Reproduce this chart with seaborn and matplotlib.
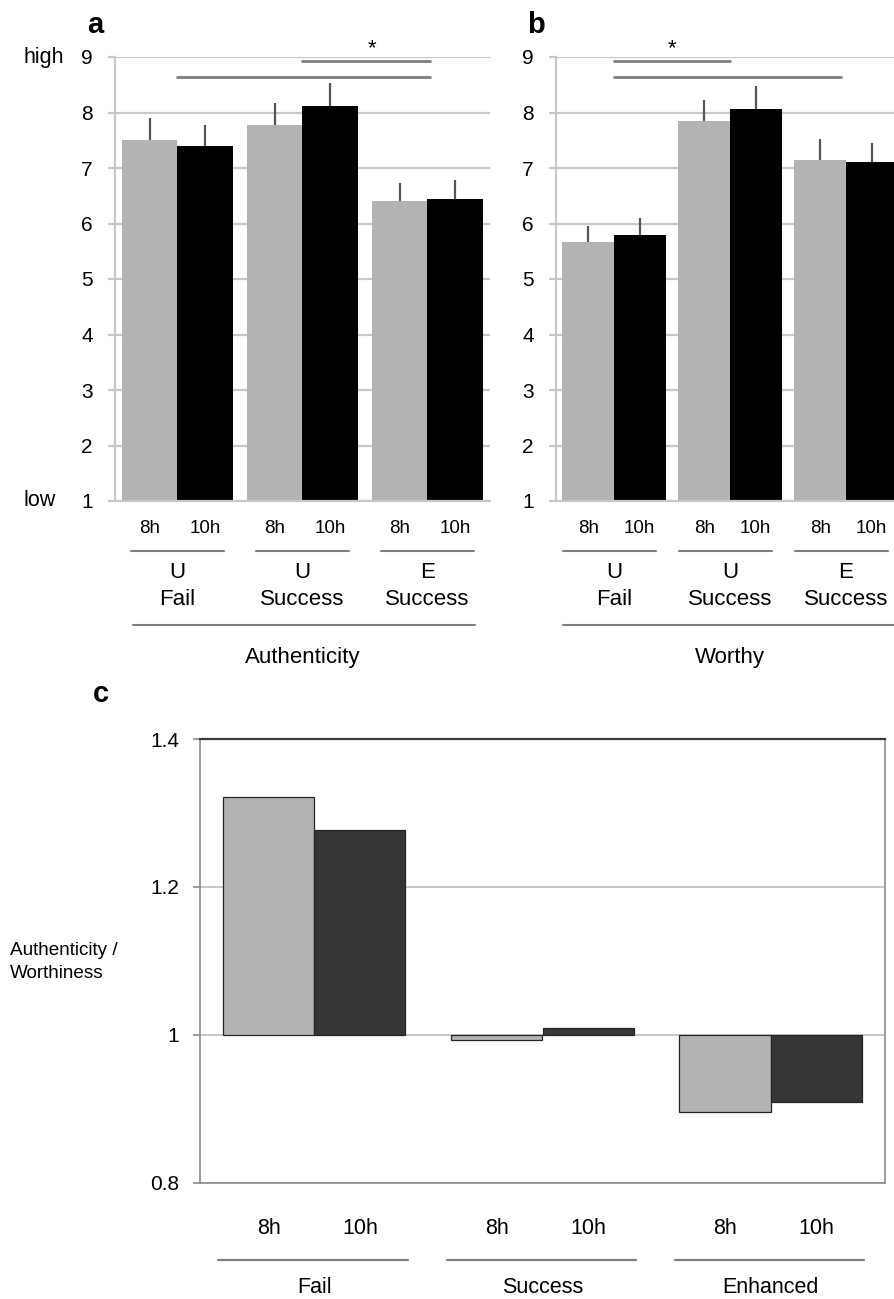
import numpy as np
import pandas as pd
import matplotlib
matplotlib.use("Agg")
import matplotlib.pyplot as plt
import matplotlib.transforms as mtransforms
import seaborn as sns

# ---- data -----------------------------------------------------------------
groups_ab = ["U\nFail", "U\nSuccess", "E\nSuccess"]
sleep_levels = ["8h", "10h"]

auth_8h = [7.50, 7.77, 6.40]
auth_10h = [7.40, 8.12, 6.45]
auth_err_8h = [0.40, 0.40, 0.33]
auth_err_10h = [0.37, 0.42, 0.33]

worthy_8h = [5.67, 7.84, 7.14]
worthy_10h = [5.80, 8.06, 7.10]
worthy_err_8h = [0.29, 0.39, 0.38]
worthy_err_10h = [0.30, 0.41, 0.35]

groups_c = ["Fail", "Success", "Enhanced"]
ratio_8h = [1.322, 0.993, 0.896]
ratio_10h = [1.277, 1.0095, 0.909]
ratio_ticks = [0.8, 1.0, 1.2, 1.4]
ratio_tick_labels = ["0.8", "1", "1.2", "1.4"]

# ---- style ----------------------------------------------------------------
sns.set_theme(style="white")
plt.rcParams["font.family"] = ["Liberation Sans", "DejaVu Sans"]
plt.rcParams["text.color"] = "black"
plt.rcParams["xtick.color"] = "black"
plt.rcParams["ytick.color"] = "black"
plt.rcParams["xtick.labelcolor"] = "black"
plt.rcParams["ytick.labelcolor"] = "black"

LIGHT = "#b3b3b3"
GRID = "#c8c8c8"
RULE = "#7f7f7f"
W, H = 895, 1299

fig = plt.figure(figsize=(W / 100, H / 100), dpi=100)


def px_axes(left, top, right, bottom):
    return fig.add_axes([left / W, 1 - bottom / H, (right - left) / W, (bottom - top) / H])


def rating_panel(ax, v8, v10, e8, e10, title, line_half, big_line, sig_lines, star_x):
    df = pd.DataFrame({
        "group": groups_ab * 2,
        "sleep": ["8h"] * 3 + ["10h"] * 3,
        "value": v8 + v10,
    })
    sns.barplot(data=df, x="group", y="value", hue="sleep", order=groups_ab,
                hue_order=sleep_levels, palette={"8h": LIGHT, "10h": "black"},
                width=0.89, gap=0, errorbar=None, legend=False, linewidth=0,
                ax=ax, zorder=2)
    ax.set_xlim(-0.5, 2.5)
    ax.set_ylim(1, 9)
    ax.set_yticks(range(1, 10))
    ax.yaxis.grid(True, color=GRID, lw=1.6)
    ax.set_axisbelow(True)
    for s in ["top", "right"]:
        ax.spines[s].set_visible(False)
    ax.spines["left"].set_color(GRID)
    ax.spines["left"].set_linewidth(1.6)
    ax.spines["bottom"].set_color(GRID)
    ax.spines["bottom"].set_linewidth(1.6)
    ax.tick_params(axis="y", length=5, width=1.6, color=GRID, labelsize=15,
                   pad=11, left=True, labelcolor="black")
    ax.set_xlabel("")
    ax.set_ylabel("")

    # one-sided error bars on top of each bar
    bars = sorted(ax.patches, key=lambda p: p.get_x())
    errs = [e for pair in zip(e8, e10) for e in pair]
    centers = []
    for p, e in zip(bars, errs):
        xc = p.get_x() + p.get_width() / 2
        top = p.get_height()
        centers.append(xc)
        ax.vlines(xc, top, top + e, color="#555555", lw=1.6, zorder=3)

    ax.set_xticks(centers, sleep_levels * 3)
    ax.tick_params(axis="x", length=0, labelsize=13.5, pad=14, labelcolor="black")

    tr = mtransforms.blended_transform_factory(ax.transData, ax.transAxes)
    for i, g in enumerate(groups_ab):
        ax.plot([i - line_half[0], i + line_half[1]], [-0.1126] * 2, transform=tr,
                clip_on=False, color=RULE, lw=1.5)
        ax.text(i, -0.192, g, transform=tr, ha="center", va="center",
                fontsize=16, linespacing=1.35)
    ax.plot(big_line, [-0.279] * 2, transform=tr, clip_on=False, color=RULE, lw=1.5)
    ax.text(1, -0.352, title, transform=tr, ha="center", va="center", fontsize=16)

    for (x0, x1), y in sig_lines:
        ax.plot([x0, x1], [y, y], color=RULE, lw=2, clip_on=False, zorder=4)
    ax.text(star_x, 9.05, "*", ha="center", va="baseline", fontsize=16,
            clip_on=False)


# ---- panel a -----------------------------------------------------------------
ax_a = px_axes(115, 57, 490, 501)
rating_panel(ax_a, auth_8h, auth_10h, auth_err_8h, auth_err_10h, "Authenticity",
             (0.37, 0.37), [-0.36, 2.38],
             [((1.0, 2.02), 8.93), ((0.0, 2.02), 8.64)], 1.56)
tra = mtransforms.blended_transform_factory(ax_a.transAxes, ax_a.transData)
ax_a.text(-0.243, 9, "high", transform=tra, ha="left", va="center", fontsize=15.5)
ax_a.text(-0.243, 1, "low", transform=tra, ha="left", va="center", fontsize=15.5)

# ---- panel b (runs off the right edge) -----------------------------------------
ax_b = px_axes(556, 57, 904, 501)
rating_panel(ax_b, worthy_8h, worthy_10h, worthy_err_8h, worthy_err_10h, "Worthy",
             (0.44, 0.36), [-0.44, 2.6],
             [((0.0, 1.0), 8.93), ((0.0, 1.96), 8.64)], 0.5)

fig.text(95 / W, 1 - 33 / H, "a", fontsize=21, fontweight="bold", ha="center", va="baseline")
fig.text(536 / W, 1 - 33 / H, "b", fontsize=21, fontweight="bold", ha="center", va="baseline")

# ---- panel c -----------------------------------------------------------------
ax_c = px_axes(200, 739, 885, 1183)
df_c = pd.DataFrame({
    "group": groups_c * 2,
    "sleep": ["8h"] * 3 + ["10h"] * 3,
    "ratio": ratio_8h + ratio_10h,
})
df_c["rise"] = df_c["ratio"] - 1.0
sns.barplot(data=df_c, x="group", y="rise", hue="sleep", order=groups_c,
            hue_order=sleep_levels, palette={"8h": LIGHT, "10h": "#353535"},
            width=0.8, gap=0, errorbar=None, legend=False, bottom=1.0,
            edgecolor="#262626", linewidth=0.9, ax=ax_c, zorder=2)
ax_c.set_xlim(-0.5, 2.5)
ax_c.set_ylim(0.8, 1.4)
ax_c.set_yticks(ratio_ticks, ratio_tick_labels)
ax_c.yaxis.grid(True, color=GRID, lw=1.4)
ax_c.set_axisbelow(True)
for s in ["left", "bottom", "right"]:
    ax_c.spines[s].set_color("#8c8c8c")
    ax_c.spines[s].set_linewidth(1.2)
ax_c.spines["top"].set_color("#3c3c3c")
ax_c.spines["top"].set_linewidth(1.6)
ax_c.set_xlabel("")
ax_c.set_ylabel("")
ax_c.tick_params(axis="y", length=5, width=1.2, color="#8c8c8c", labelsize=15,
                 pad=10, left=True, labelcolor="black")

bars_c = sorted(ax_c.patches, key=lambda p: p.get_x())
centers_c = [p.get_x() + p.get_width() / 2 for p in bars_c]
ax_c.set_xticks(centers_c, sleep_levels * 3)
ax_c.tick_params(axis="x", length=0, labelsize=15.5, pad=25, labelcolor="black")

trc = mtransforms.blended_transform_factory(ax_c.transData, ax_c.transAxes)
for i, g in enumerate(groups_c):
    ax_c.plot([i - 0.42, i + 0.41], [-0.173] * 2, transform=trc, clip_on=False,
              color=RULE, lw=1.6)
    ax_c.text(i, -0.236, g, transform=trc, ha="center", va="center", fontsize=15.5)

fig.text(10 / W, 1 - 962 / H, "Authenticity /\nWorthiness", ha="left", va="center",
         fontsize=13.6, linespacing=1.5)
fig.text(101 / W, 1 - 702 / H, "c", fontsize=21, fontweight="bold", ha="center", va="baseline")

fig.savefig("out.png", dpi=100)
